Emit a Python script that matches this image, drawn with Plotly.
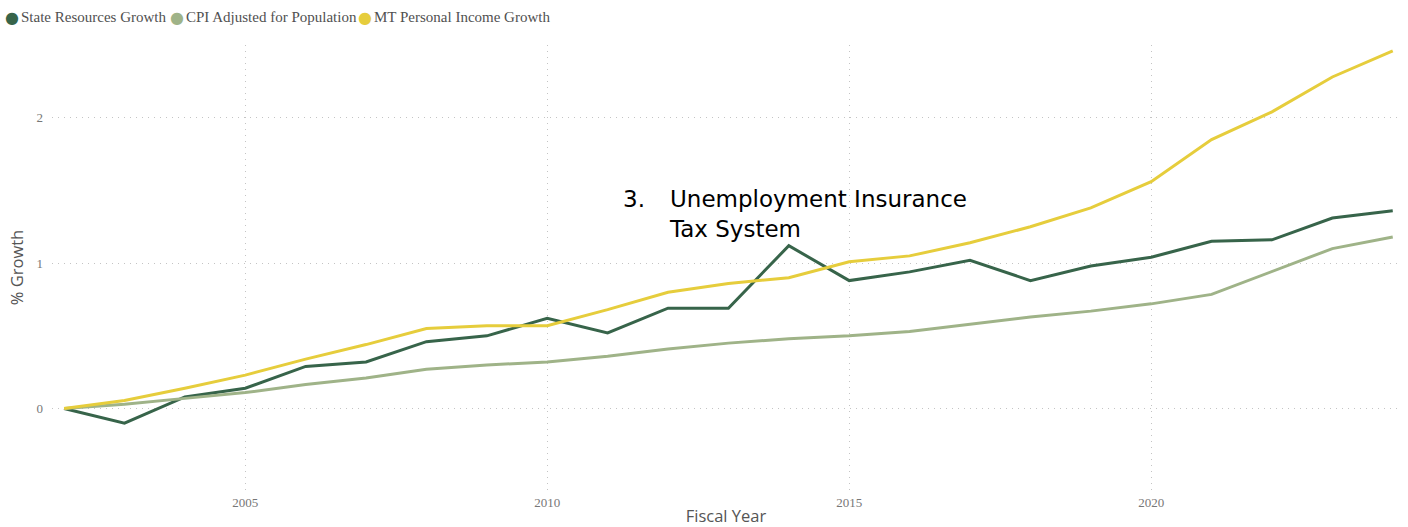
import plotly.graph_objects as go

years = list(range(2002, 2025))
state_resources = [0, -0.10, 0.08, 0.14, 0.29, 0.32, 0.46, 0.50, 0.62, 0.52, 0.69, 0.69,
                   1.12, 0.88, 0.94, 1.02, 0.88, 0.98, 1.04, 1.15, 1.16, 1.31, 1.36]
cpi_adjusted = [0, 0.03, 0.07, 0.11, 0.165, 0.21, 0.27, 0.30, 0.32, 0.36, 0.41, 0.45,
                0.48, 0.50, 0.53, 0.58, 0.63, 0.67, 0.72, 0.785, 0.94, 1.10, 1.18]
mt_income = [0, 0.055, 0.14, 0.23, 0.34, 0.44, 0.55, 0.57, 0.57, 0.68, 0.80, 0.86,
             0.90, 1.01, 1.05, 1.14, 1.25, 1.38, 1.56, 1.85, 2.04, 2.28, 2.46]
series_names = ["State Resources Growth", "CPI Adjusted for Population", "MT Personal Income Growth"]
series_colors = ["#37644A", "#9FB388", "#E6CD3C"]
legend_px = [12, 177, 365]

W, H = 1408, 527
L, R, T, B = 52, 8, 45, 37
PW, PH = W - L - R, H - T - B


def px_x(px):
    return (px - L) / PW


def px_y(py):
    return 1 - (py - T) / PH


fig = go.Figure()
for name, vals, color in zip(series_names, [state_resources, cpi_adjusted, mt_income], series_colors):
    fig.add_trace(go.Scatter(x=years, y=vals, mode="lines", name=name,
                             line=dict(color=color, width=3), showlegend=False))

# legend drawn as text items (dot + label), as in the original
for name, color, px in zip(series_names, series_colors, legend_px):
    fig.add_annotation(xref="paper", yref="paper", x=px_x(px), y=px_y(17.5),
                       xanchor="center", yanchor="middle", showarrow=False,
                       text="●", font=dict(family="DejaVu Sans", size=16, color=color))
    fig.add_annotation(xref="paper", yref="paper", x=px_x(px + 7), y=px_y(17),
                       xanchor="left", yanchor="middle", showarrow=False,
                       text=name, font=dict(family="Liberation Serif, Times New Roman", size=15, color="#505050"))

fig.add_annotation(xref="paper", yref="paper", x=px_x(621), y=px_y(184),
                   xanchor="left", yanchor="top", showarrow=False, align="left",
                   text="3.", font=dict(family="DejaVu Sans", size=23, color="#000"))
fig.add_annotation(xref="paper", yref="paper", x=px_x(667), y=px_y(184),
                   xanchor="left", yanchor="top", showarrow=False, align="left",
                   text="Unemployment Insurance<br>Tax System",
                   font=dict(family="DejaVu Sans", size=23, color="#000"))

grid = dict(showgrid=True, gridcolor="#c4c4c4", griddash="1px,5px", gridwidth=1)

fig.update_layout(
    width=W, height=H,
    margin=dict(l=L, r=R, t=T, b=B),
    plot_bgcolor="white", paper_bgcolor="white",
    showlegend=False,
    xaxis=dict(range=[2001.8, 2024.12], tickmode="linear", tick0=2005, dtick=5, **grid,
               zeroline=False, showline=False, ticks="", automargin=False,
               ticklabelstandoff=3,
               tickfont=dict(family="Liberation Serif, Times New Roman", size=13, color="#777"),
               title=dict(text="Fiscal Year", standoff=7,
                          font=dict(family="Open Sans, Noto Sans", size=16.5, color="#555"))),
    yaxis=dict(range=[-0.56, 2.5], tickvals=[0, 1, 2], **grid,
               zeroline=False, showline=False, ticks="", ticklabelstandoff=8, automargin=False,
               tickfont=dict(family="Liberation Serif, Times New Roman", size=13, color="#777"),
               title=dict(text="% Growth", standoff=8,
                          font=dict(family="Open Sans, Noto Sans", size=16.5, color="#555"))),
)

fig.write_html("out.html")
